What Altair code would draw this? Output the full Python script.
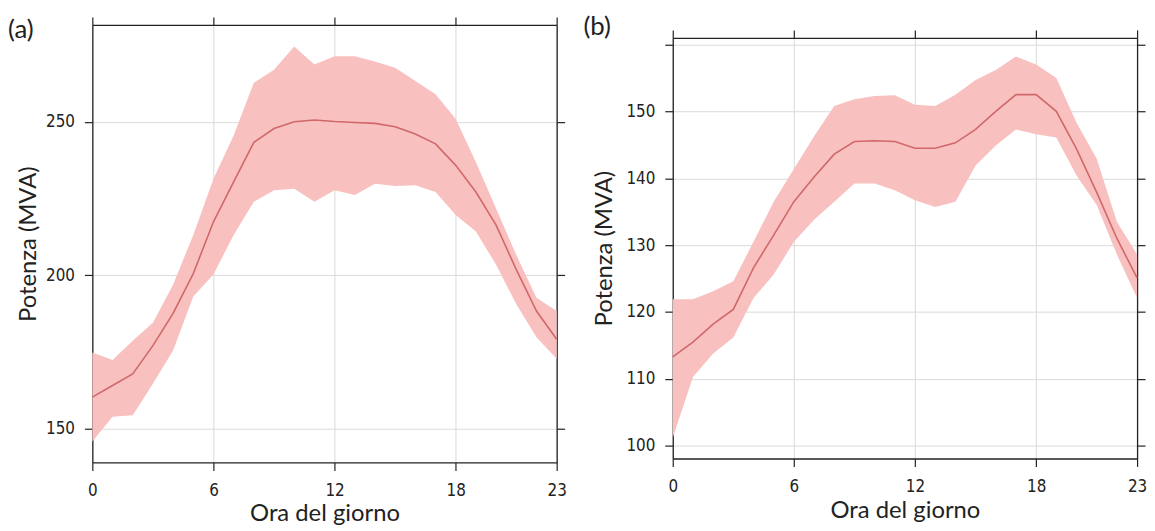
import altair as alt
import pandas as pd

hours = list(range(24))

a_mean = [160.2, 164.0, 167.8, 177.0, 187.5, 200.5, 217.4, 230.4, 243.3, 247.8, 250.0, 250.6,
          250.1, 249.8, 249.5, 248.4, 246.0, 242.8, 235.8, 227.1, 216.3, 201.8, 188.3, 179.1]
a_upper = [174.8, 172.3, 178.6, 184.5, 196.9, 213.1, 231.4, 245.5, 262.7, 267.0, 274.6, 268.7,
           271.4, 271.4, 269.7, 267.6, 263.3, 259.0, 250.9, 236.8, 221.7, 206.6, 192.6, 188.3]
a_lower = [145.7, 153.8, 154.3, 164.6, 175.4, 193.0, 200.2, 213.1, 223.9, 227.7, 228.2, 223.9,
           227.7, 226.1, 229.8, 229.1, 229.3, 227.1, 219.6, 214.2, 203.4, 190.5, 179.7, 172.7]

b_mean = [113.3, 115.5, 118.2, 120.4, 126.6, 131.5, 136.5, 140.2, 143.6, 145.5, 145.6, 145.5,
          144.5, 144.5, 145.3, 147.3, 150.0, 152.5, 152.5, 150.0, 144.4, 137.9, 131.0, 125.1]
b_upper = [121.9, 121.9, 123.1, 124.6, 130.5, 136.5, 141.4, 146.3, 150.8, 151.8, 152.3, 152.4,
           151.0, 150.8, 152.5, 154.7, 156.2, 158.2, 157.0, 155.0, 148.3, 142.9, 133.5, 128.6]
b_lower = [101.2, 110.3, 113.8, 116.2, 122.1, 125.6, 130.5, 133.8, 136.5, 139.2, 139.2, 138.2,
           136.7, 135.7, 136.5, 141.9, 144.9, 147.3, 146.6, 146.1, 140.4, 136.0, 128.6, 122.1]

x_ticks = [0, 6, 12, 18, 23]
a_yticks = [150, 200, 250]
b_yticks = [100, 110, 120, 130, 140, 150, 160]
a_ydomain = [138.9, 281.6]
b_ydomain = [98.1, 161.0]

BAND = "#f9c0c0"
LINE = "#d0686a"
AX = "#222222"
GRID = "#dadada"
NARROW = "Liberation Sans Narrow, DejaVu Sans Condensed, Liberation Sans, sans-serif"
TF = "Lato, Open Sans, sans-serif"


def title_params(text, dx, offset):
    return alt.TitleParams(text, anchor="start", frame="group", dx=dx, offset=offset,
                           font=TF, fontSize=26, fontWeight="normal", color=AX)


def panel(mean, upper, lower, ydom, yvals, w, h, ytpad, hide_top_label):
    df = pd.DataFrame({"hour": hours, "mean": mean, "upper": upper, "lower": lower})
    xs = alt.Scale(domain=[0, 23], nice=False, zero=False)
    ys = alt.Scale(domain=ydom, nice=False, zero=False)
    common = dict(tickSize=8, tickColor=AX, domainColor=AX, tickWidth=1.2, domainWidth=1.3,
                  labelFlush=False)
    ylabel_expr = "datum.value == 160 ? '' : datum.label" if hide_top_label else "datum.label"
    bottom = alt.Axis(orient="bottom", values=x_ticks, title="Ora del giorno", grid=True,
                      gridColor=GRID, labelFont=NARROW, labelFontSize=17, labelPadding=12,
                      labelColor=AX, titleFont=TF, titleFontSize=24, titleFontWeight="normal",
                      titleColor=AX, titlePadding=4, **common)
    left = alt.Axis(orient="left", values=yvals, title="Potenza (MVA)", grid=True,
                    gridColor=GRID, labelFont=NARROW, labelFontSize=17, labelPadding=10,
                    labelColor=AX, labelExpr=ylabel_expr, titleFont=TF, titleFontSize=24,
                    titleFontWeight="normal", titleColor=AX, titlePadding=ytpad, **common)
    top = alt.Axis(orient="top", values=x_ticks, title="", labels=False, grid=False, **common)
    right = alt.Axis(orient="right", values=yvals, title="", labels=False, grid=False, **common)

    base = alt.Chart(df)
    band = base.mark_area(color=BAND, opacity=1).encode(
        x=alt.X("hour:Q", scale=xs, axis=bottom),
        y=alt.Y("lower:Q", scale=ys, axis=left),
        y2="upper:Q",
    )
    line = base.mark_line(color=LINE, strokeWidth=1.6).encode(
        x=alt.X("hour:Q", scale=xs, axis=top),
        y=alt.Y("mean:Q", scale=ys, axis=right),
    )
    return alt.layer(band, line).properties(width=w, height=h)


pa = panel(a_mean, a_upper, a_lower, a_ydomain, a_yticks, 468, 441, 5, False).properties(
    title=title_params("(a)", -85, -27)
)
pb = panel(b_mean, b_upper, b_lower, b_ydomain, b_yticks, 468, 424, 10, True)

spacer = alt.Chart(pd.DataFrame({"v": [0]})).mark_point(opacity=0).properties(width=468, height=1)
right_cell = alt.vconcat(spacer, pb, spacing=0).properties(title=title_params("(b)", -90, -17))

chart = alt.hconcat(pa, right_cell, spacing=17).properties(
    padding={"left": 0, "top": 3, "right": 0, "bottom": 0},
    background="white",
).configure_view(stroke=None)

chart.save("out.html", embed_options={"renderer": "svg", "actions": False})
